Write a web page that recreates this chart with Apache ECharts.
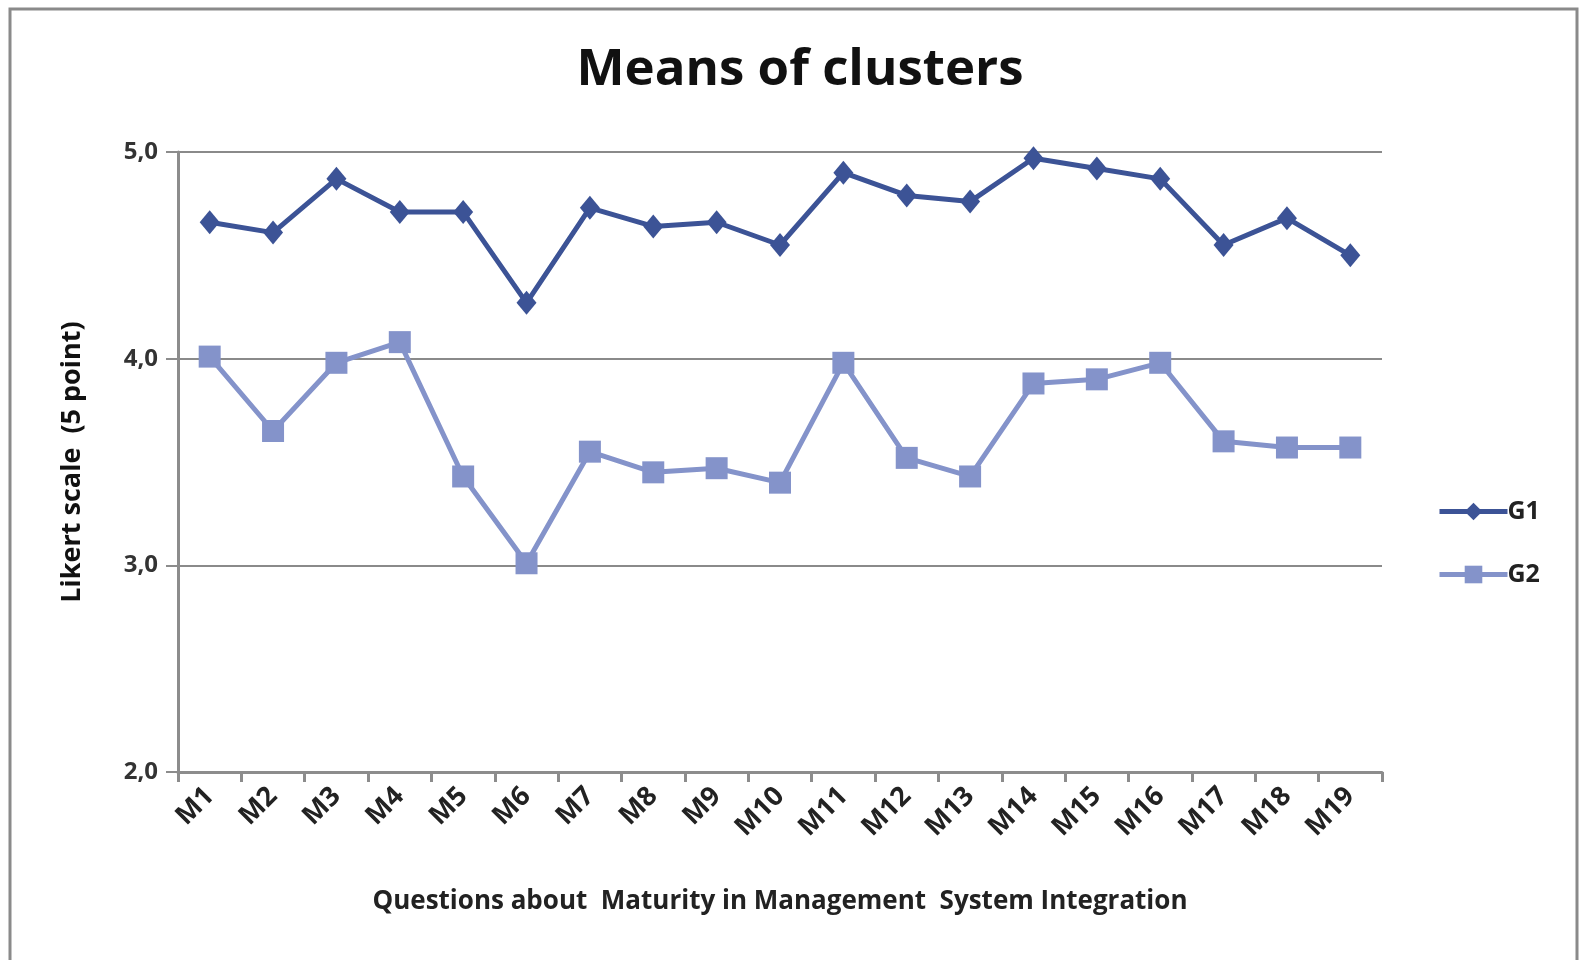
<!DOCTYPE html>
<html>
<head>
<meta charset="utf-8">
<title>Means of clusters</title>
<script src="https://cdn.jsdelivr.net/npm/echarts@6/dist/echarts.min.js"></script>
<style>
  html, body { margin: 0; padding: 0; background: #fff; }
  #chart { width: 1579px; height: 960px; }
</style>
</head>
<body>
<div id="chart"></div>
<script>
// ---- data ----
const questions = ['M1', 'M2', 'M3', 'M4', 'M5', 'M6', 'M7', 'M8', 'M9', 'M10',
  'M11', 'M12', 'M13', 'M14', 'M15', 'M16', 'M17', 'M18', 'M19']
const g1 = [4.66, 4.61, 4.87, 4.71, 4.71, 4.27, 4.73, 4.64, 4.66, 4.55,
  4.90, 4.79, 4.76, 4.97, 4.92, 4.87, 4.55, 4.68, 4.50]
const g2 = [4.01, 3.65, 3.98, 4.08, 3.43, 3.01, 3.55, 3.45, 3.47, 3.40,
  3.98, 3.52, 3.43, 3.88, 3.90, 3.98, 3.60, 3.57, 3.57]

const FONT = '"Open Sans", "Liberation Sans", sans-serif'
const G1_COLOR = '#3c5396'
const G2_COLOR = '#8493ca'
const AXIS_GREY = '#8c8c8c'

const chart = echarts.init(document.getElementById('chart'))

chart.setOption({
  backgroundColor: '#fff',
  animation: false,
  textStyle: { fontFamily: FONT },
  graphic: [
    {
      type: 'rect',
      silent: true,
      shape: { x: 10, y: 9, width: 1567, height: 970 },
      style: { fill: 'none', stroke: '#8a8a8a', lineWidth: 3 },
    },
  ],
  title: {
    text: 'Means of clusters',
    left: 795,
    top: 40,
    textAlign: 'center',
    textStyle: { fontFamily: FONT, fontSize: 51, fontWeight: 'bold', color: '#111' },
  },
  legend: {
    orient: 'vertical',
    left: 1432,
    top: 494,
    itemWidth: 68,
    itemHeight: 22,
    itemGap: 38,
    data: ['G1', 'G2'],
    lineStyle: { width: 5 },
    textStyle: { fontFamily: FONT, fontSize: 25, fontWeight: 'bold', color: '#222', padding: [0, 0, 0, -5] },
  },
  grid: { left: 178, top: 152, right: 197, bottom: 188 },
  xAxis: {
    type: 'category',
    data: questions,
    boundaryGap: true,
    name: 'Questions about  Maturity in Management  System Integration',
    nameLocation: 'middle',
    nameGap: 117,
    nameTextStyle: { fontFamily: FONT, fontSize: 26, fontWeight: 'bold', color: '#222', letterSpacing: 0.8 },
    axisLine: { lineStyle: { color: AXIS_GREY, width: 3 } },
    axisTick: { show: true, alignWithLabel: false, length: 10, lineStyle: { color: AXIS_GREY, width: 3 } },
    axisLabel: {
      rotate: 45,
      margin: 20,
      fontFamily: FONT,
      fontSize: 27,
      fontWeight: 'bold',
      color: '#222',
    },
  },
  yAxis: {
    type: 'value',
    min: 2,
    max: 5,
    interval: 1,
    name: 'Likert scale  (5 point)',
    nameLocation: 'middle',
    nameGap: 92,
    nameRotate: 90,
    nameTextStyle: { fontFamily: FONT, fontSize: 27, fontWeight: 'bold', color: '#111' },
    axisLine: { show: true, lineStyle: { color: AXIS_GREY, width: 3 } },
    axisTick: { show: true, length: 12, lineStyle: { color: AXIS_GREY, width: 2 } },
    axisLabel: {
      margin: 20,
      fontFamily: FONT,
      fontSize: 24,
      fontWeight: 'bold',
      color: '#333',
      formatter: (v) => v.toFixed(1).replace('.', ','),
    },
    splitLine: { lineStyle: { color: '#8a8a8a', width: 2 } },
  },
  series: [
    {
      name: 'G1',
      type: 'line',
      data: g1,
      symbol: 'diamond',
      symbolSize: [20, 24],
      lineStyle: { color: G1_COLOR, width: 5 },
      itemStyle: { color: G1_COLOR },
      z: 3,
    },
    {
      name: 'G2',
      type: 'line',
      data: g2,
      symbol: 'rect',
      symbolSize: 22,
      lineStyle: { color: G2_COLOR, width: 5 },
      itemStyle: { color: G2_COLOR },
      z: 2,
    },
  ],
})
</script>
</body>
</html>
